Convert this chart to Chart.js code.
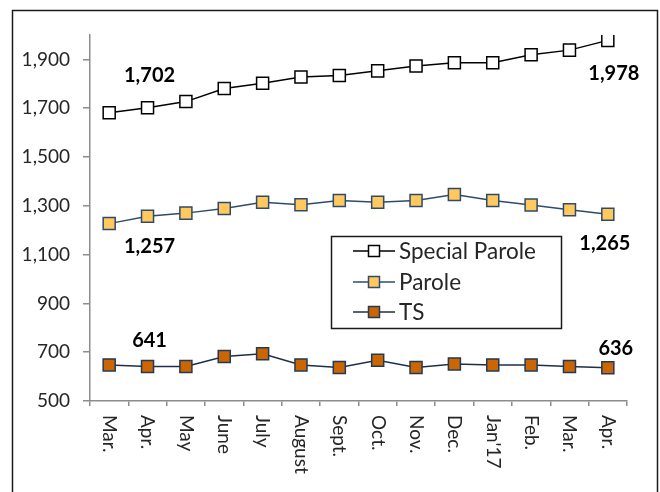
<!DOCTYPE html>
<html>
<head>
<meta charset="utf-8">
<script src="https://cdn.jsdelivr.net/npm/chart.js@4"></script>
<style>
  html, body { margin: 0; padding: 0; background: #ffffff; }
  #wrap { width: 660px; height: 492px; position: relative; }
</style>
</head>
<body>
<div id="wrap"><canvas id="c" width="660" height="492"></canvas></div>
<script>
const categories = ["Mar.", "Apr.", "May", "June", "July", "August", "Sept.", "Oct.", "Nov.", "Dec.", "Jan'17", "Feb.", "Mar.", "Apr."];
const specialParole = [1681, 1702, 1727, 1781, 1802, 1828, 1834, 1853, 1873, 1886, 1886, 1919, 1938, 1978];
const parole = [1227, 1257, 1270, 1289, 1315, 1304, 1322, 1315, 1322, 1346, 1322, 1303, 1284, 1265];
const ts = [648, 641, 641, 682, 694, 648, 637, 667, 637, 652, 648, 648, 641, 636];
const seriesNames = ["Special Parole", "Parole", "TS"];
const yTicks = [500, 700, 900, 1100, 1300, 1500, 1700, 1900];

const FONT = "Lato, 'Open Sans', sans-serif";
const TEXT = "#262626";

const styles = [
  { fill: "#ffffff", border: "#000000", line: "#000000" },
  { fill: "#FFC95E", border: "#2F4A6B", line: "#2F4A6B" },
  { fill: "#CC6600", border: "#22395A", line: "#1E2E48" }
];

function drawSquare(ctx, x, y, side, st) {
  ctx.save();
  ctx.fillStyle = st.fill;
  ctx.strokeStyle = st.border;
  ctx.lineWidth = 1.5;
  ctx.fillRect(x - side / 2, y - side / 2, side, side);
  ctx.strokeRect(x - side / 2, y - side / 2, side, side);
  ctx.restore();
}

const framePlugin = {
  id: 'frame',
  beforeDraw(chart) {
    const ctx = chart.ctx;
    ctx.save();
    ctx.fillStyle = '#ffffff';
    ctx.fillRect(0, 0, chart.width, chart.height);
    ctx.strokeStyle = '#1a1a1a';
    ctx.lineWidth = 1.5;
    ctx.strokeRect(12.5, 10.5, 645, 500);
    ctx.restore();
  }
};

const xLabelPlugin = {
  id: 'xlabels',
  afterDraw(chart) {
    const ctx = chart.ctx;
    const xs = chart.scales.x;
    const top = xs.top + 14;
    ctx.save();
    ctx.fillStyle = TEXT;
    ctx.font = "19px " + FONT;
    ctx.textAlign = 'left';
    ctx.textBaseline = 'middle';
    categories.forEach((c, i) => {
      const x = xs.getPixelForValue(i);
      ctx.save();
      ctx.translate(x, top);
      ctx.rotate(Math.PI / 2);
      ctx.fillText(c, 0, 0);
      ctx.restore();
    });
    ctx.restore();
  }
};

const dataLabelPlugin = {
  id: 'dlabels',
  afterDatasetsDraw(chart) {
    const ctx = chart.ctx;
    const specs = [
      { ds: 0, i: 1, dx: 2, dy: -32 },
      { ds: 0, i: 13, dx: 6, dy: 33 },
      { ds: 1, i: 1, dx: 2, dy: 30 },
      { ds: 1, i: 13, dx: -3, dy: 29 },
      { ds: 2, i: 1, dx: 2, dy: -26 },
      { ds: 2, i: 13, dx: 8, dy: -19 }
    ];
    ctx.save();
    ctx.fillStyle = '#000000';
    ctx.font = "bold 20px " + FONT;
    ctx.textAlign = 'center';
    ctx.textBaseline = 'middle';
    specs.forEach(s => {
      const pt = chart.getDatasetMeta(s.ds).data[s.i];
      const v = chart.data.datasets[s.ds].data[s.i];
      ctx.fillText(v.toLocaleString('en-US'), pt.x + s.dx, pt.y + s.dy);
    });
    ctx.restore();
  }
};

const legendPlugin = {
  id: 'customLegend',
  afterDatasetsDraw(chart) {
    const ctx = chart.ctx;
    const bx = 331.5, by = 236.5, bw = 230, bh = 92;
    ctx.save();
    ctx.fillStyle = '#ffffff';
    ctx.fillRect(bx, by, bw, bh);
    ctx.strokeStyle = '#1a1a1a';
    ctx.lineWidth = 1.5;
    ctx.strokeRect(bx, by, bw, bh);
    const rows = [251, 282, 312];
    ctx.font = "22.5px " + FONT;
    ctx.textAlign = 'left';
    ctx.textBaseline = 'middle';
    seriesNames.forEach((n, k) => {
      const y = rows[k];
      const st = styles[k];
      ctx.strokeStyle = st.line;
      ctx.lineWidth = 1.5;
      ctx.beginPath();
      ctx.moveTo(353, y);
      ctx.lineTo(395, y);
      ctx.stroke();
      drawSquare(ctx, 374, y, 11, st);
      ctx.fillStyle = TEXT;
      ctx.fillText(n, 399, y + 1);
    });
    ctx.restore();
  }
};

const seriesData = [specialParole, parole, ts];
const datasets = seriesData.map((d, k) => ({
  label: seriesNames[k],
  data: d,
  borderColor: styles[k].line,
  borderWidth: 1.5,
  pointStyle: 'rect',
  pointRadius: 8.5,
  pointHoverRadius: 8.5,
  pointBackgroundColor: styles[k].fill,
  pointBorderColor: styles[k].border,
  pointBorderWidth: 1.5,
  tension: 0,
  fill: false
}));

new Chart(document.getElementById('c'), {
  type: 'line',
  data: { labels: categories, datasets: datasets },
  options: {
    responsive: false,
    animation: false,
    devicePixelRatio: 1,
    layout: { padding: { left: 0, top: 35, right: 33, bottom: 0 } },
    plugins: {
      legend: { display: false },
      tooltip: { enabled: false },
      title: { display: false }
    },
    scales: {
      x: {
        offset: true,
        grid: { offset: true, drawOnChartArea: false, drawTicks: true, tickLength: 5, color: '#8c8c8c', lineWidth: 1.5 },
        border: { display: true, color: '#8c8c8c', width: 1.5 },
        ticks: { display: false },
        afterFit(scale) { scale.height = 91; }
      },
      y: {
        min: 500,
        max: 2000,
        grid: { drawOnChartArea: false, drawTicks: true, tickLength: 7, color: '#8c8c8c', lineWidth: 1.5 },
        border: { display: true, color: '#8c8c8c', width: 1.5 },
        ticks: {
          color: TEXT,
          font: { family: FONT, size: 19 },
          padding: 13,
          callback: (v) => Number(v).toLocaleString('en-US')
        },
        afterBuildTicks(scale) { scale.ticks = yTicks.map(v => ({ value: v })); },
        afterFit(scale) { scale.width = 90; }
      }
    }
  },
  plugins: [framePlugin, xLabelPlugin, dataLabelPlugin, legendPlugin]
});
</script>
</body>
</html>
